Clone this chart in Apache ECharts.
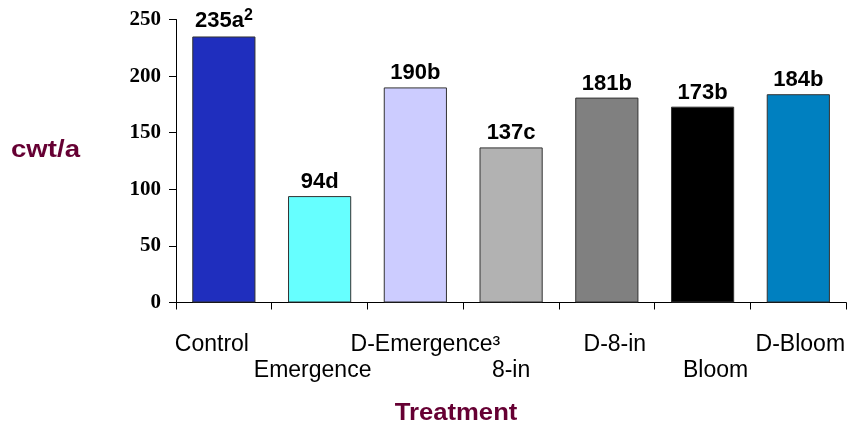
<!DOCTYPE html>
<html><head><meta charset="utf-8">
<script src="https://cdn.jsdelivr.net/npm/echarts@6/dist/echarts.min.js"></script>
<style>html,body{margin:0;padding:0;background:#fff}#c{width:848px;height:426px}</style>
</head><body><div id="c"></div>
<script>
const categories = ['Control', 'Emergence', 'D-Emergence³', '8-in', 'D-8-in', 'Bloom', 'D-Bloom'];
const yieldValues = [235, 94, 190, 137, 181, 173, 184];
const valueLabels = ['235a', '94d', '190b', '137c', '181b', '173b', '184b'];
const labelNotes = ['2', '', '', '', '', '', ''];
const yTicks = [0, 50, 100, 150, 200, 250];

const barColors = ['#1F2EBE', '#66FFFF', '#CCCCFF', '#B2B2B2', '#808080', '#000000', '#0080C0'];
const rowShift = [0, 1, 0, 1, 0, 1, 0];
const hShift = [-12, -7, 10, 0, 8, 13, 2];

const chart = echarts.init(document.getElementById('c'));
const catData = categories.map((c, i) => {
  const s = hShift[i];
  return {
    value: c,
    textStyle: {
      padding: [rowShift[i] ? 26 : 0, s < 0 ? -2 * s : 0, 0, s > 0 ? 2 * s : 0]
    }
  };
});
chart.setOption({
  animation: false,
  grid: { left: 176, right: 1, top: 19.5, bottom: 123.5 },
  xAxis: {
    type: 'category',
    data: catData,
    axisLine: { lineStyle: { color: '#000', width: 1 } },
    axisTick: { show: true, length: 7, lineStyle: { color: '#000' } },
    axisLabel: {
      interval: 0, margin: 29, color: '#000',
      fontFamily: 'Liberation Sans, Arial, sans-serif', fontSize: 23, lineHeight: 26
    }
  },
  yAxis: {
    type: 'value', min: yTicks[0], max: yTicks[yTicks.length - 1], interval: 50,
    splitLine: { show: false },
    axisLine: { show: true, lineStyle: { color: '#000', width: 1 } },
    axisTick: { show: true, length: 7, lineStyle: { color: '#000' } },
    axisLabel: {
      margin: 15, color: '#000', fontWeight: 'bold',
      fontFamily: 'Liberation Serif, Times New Roman, serif', fontSize: 21
    }
  },
  series: [{
    type: 'bar',
    barWidth: '66%',
    data: yieldValues.map((v, i) => ({
      value: v,
      itemStyle: { color: barColors[i], borderColor: '#333', borderWidth: 1 }
    })),
    label: {
      show: true, position: 'top', distance: 3,
      formatter: p => labelNotes[p.dataIndex]
        ? '{m|' + valueLabels[p.dataIndex] + '}{s|' + labelNotes[p.dataIndex] + '}'
        : '{m|' + valueLabels[p.dataIndex] + '}',
      rich: {
        m: { fontFamily: 'Liberation Sans, Arial, sans-serif', fontWeight: 'bold', fontSize: 22, color: '#000' },
        s: { fontFamily: 'Liberation Sans, Arial, sans-serif', fontWeight: 'bold', fontSize: 16, color: '#000', verticalAlign: 'top', padding: [0, 0, 10, 0] }
      }
    }
  }],
  graphic: [
    { type: 'text', x: 11, y: 151, scaleX: 1.2,
      style: { text: 'cwt/a', fill: '#660033', font: 'bold 23px Liberation Sans, Arial, sans-serif', align: 'left', verticalAlign: 'middle' } },
    { type: 'text', x: 456, y: 413, scaleX: 1.07,
      style: { text: 'Treatment', fill: '#660033', font: 'bold 24px Liberation Sans, Arial, sans-serif', align: 'center', verticalAlign: 'middle' } }
  ]
});
</script></body></html>
